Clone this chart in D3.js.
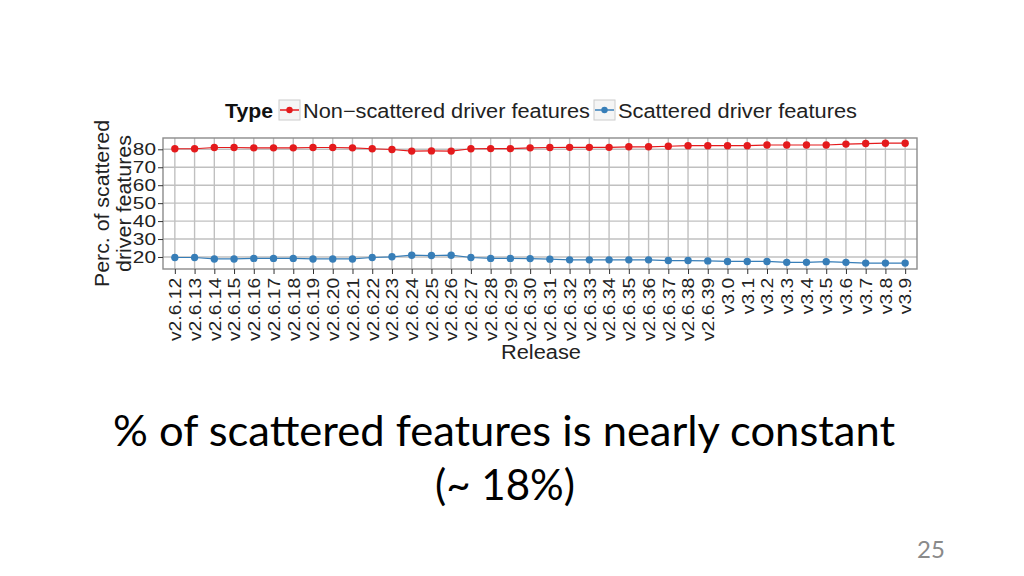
<!DOCTYPE html>
<html>
<head>
<meta charset="utf-8">
<script src="https://cdn.jsdelivr.net/npm/d3@7"></script>
<style>
  body { margin: 0; background: #fff; }
  svg { display: block; }
</style>
</head>
<body>
<svg id="chart" width="1024" height="576"></svg>
<script>
const releases = [
  "v2.6.12", "v2.6.13", "v2.6.14", "v2.6.15", "v2.6.16", "v2.6.17", "v2.6.18", "v2.6.19",
  "v2.6.20", "v2.6.21", "v2.6.22", "v2.6.23", "v2.6.24", "v2.6.25", "v2.6.26", "v2.6.27",
  "v2.6.28", "v2.6.29", "v2.6.30", "v2.6.31", "v2.6.32", "v2.6.33", "v2.6.34", "v2.6.35",
  "v2.6.36", "v2.6.37", "v2.6.38", "v2.6.39", "v3.0", "v3.1", "v3.2", "v3.3", "v3.4",
  "v3.5", "v3.6", "v3.7", "v3.8", "v3.9"
];
const nonScattered = [
  80.3, 80.3, 81.0, 81.0, 80.8, 80.8, 80.8, 81.0, 81.0, 80.8, 80.3, 79.9, 79.0, 79.1, 79.0,
  80.3, 80.4, 80.4, 80.8, 81.0, 81.1, 81.1, 81.1, 81.4, 81.4, 81.7, 82.0, 82.0, 82.0, 82.0,
  82.4, 82.4, 82.4, 82.4, 82.9, 83.2, 83.4, 83.4
];
const scattered = [
  19.7, 19.7, 18.9, 18.9, 19.2, 19.2, 19.2, 18.9, 18.9, 18.9, 19.7, 20.1, 21.0, 20.8, 21.0,
  19.7, 19.2, 19.2, 19.1, 18.8, 18.4, 18.4, 18.4, 18.4, 18.4, 18.0, 18.0, 17.8, 17.5, 17.5,
  17.5, 17.0, 17.0, 17.4, 17.0, 16.6, 16.6, 16.6
];
const yTicks = [20, 30, 40, 50, 60, 70, 80];
const seriesNames = ["Non\u2212scattered driver features", "Scattered driver features"];
const colors = ["#e41a1c", "#377eb8"];

const svg = d3.select("#chart");
const margin = { top: 138, right: 107, bottom: 307, left: 163 };
const width = 1024 - margin.left - margin.right;
const height = 576 - margin.top - margin.bottom;
const sans = "Liberation Sans, Arial, sans-serif";

// ggplot-like expansion: 0.6 units on discrete x
const x = d3.scaleLinear()
    .domain([-0.6, releases.length - 1 + 0.6])
    .range([0, width]);
const y = d3.scaleLinear()
    .domain([13.3, 86.3])
    .range([height, 0]);

const g = svg.append("g")
    .attr("transform", `translate(${margin.left},${margin.top})`);

// grid
g.selectAll(".hgrid").data(yTicks).enter().append("line")
    .attr("x1", 0).attr("x2", width)
    .attr("y1", d => y(d)).attr("y2", d => y(d))
    .attr("stroke", "#c0c0c0").attr("stroke-width", 1.4);
g.selectAll(".vgrid").data(releases).enter().append("line")
    .attr("x1", (d, i) => x(i)).attr("x2", (d, i) => x(i))
    .attr("y1", 0).attr("y2", height)
    .attr("stroke", "#c0c0c0").attr("stroke-width", 1.4);
g.append("rect")
    .attr("width", width).attr("height", height)
    .attr("fill", "none").attr("stroke", "#8c8c8c").attr("stroke-width", 1.4);

// axes
const yAxis = g.append("g")
    .call(d3.axisLeft(y).tickValues(yTicks).tickSize(5).tickPadding(2));
yAxis.select(".domain").remove();
yAxis.selectAll("line").attr("stroke", "#333");
yAxis.selectAll("text")
    .attr("font-family", sans)
    .attr("font-size", 16).attr("fill", "#222")
    .attr("x", 0)
    .attr("transform", "translate(-7,0) scale(1.3,1)");

const xAxis = g.append("g")
    .attr("transform", `translate(0,${height})`)
    .call(d3.axisBottom(x).tickValues(d3.range(releases.length))
      .tickFormat(i => releases[i]).tickSize(5).tickPadding(2));
xAxis.select(".domain").remove();
xAxis.selectAll("line").attr("stroke", "#333");
xAxis.selectAll("text")
    .attr("font-family", sans)
    .attr("font-size", 16.5).attr("fill", "#222")
    .attr("transform", "rotate(-90) scale(1.17,1)")
    .attr("text-anchor", "end")
    .attr("x", -7.5).attr("y", 0).attr("dy", "0.35em");

// lines and points
const series = [nonScattered, scattered];
const line = d3.line().x((d, i) => x(i)).y(d => y(d));
series.forEach((s, k) => {
  g.append("path")
      .datum(s)
      .attr("fill", "none")
      .attr("stroke", colors[k])
      .attr("stroke-width", 1.2)
      .attr("d", line);
  g.selectAll(".pt" + k).data(s).enter().append("circle")
      .attr("cx", (d, i) => x(i)).attr("cy", d => y(d))
      .attr("r", 3.7).attr("fill", colors[k]);
});

// axis titles
const yTitle = [["Perc. of scattered", 109, 167], ["driver features", 131, 137]];
yTitle.forEach(([t, bx, len]) => {
  svg.append("text")
      .attr("transform", `translate(${bx},203.5) rotate(-90)`)
      .attr("text-anchor", "middle")
      .attr("font-family", sans)
      .attr("font-size", 20).attr("fill", "#222")
      .attr("textLength", len).attr("lengthAdjust", "spacingAndGlyphs")
      .text(t);
});

svg.append("text")
    .attr("x", 541).attr("y", 359)
    .attr("text-anchor", "middle")
    .attr("font-family", sans)
    .attr("font-size", 20).attr("fill", "#222")
    .attr("textLength", 80).attr("lengthAdjust", "spacingAndGlyphs")
    .text("Release");

// legend
const legend = svg.append("g").attr("transform", "translate(0,118)");
legend.append("text")
    .attr("x", 225).attr("y", 0)
    .attr("font-family", sans)
    .attr("font-size", 20).attr("font-weight", "bold").attr("fill", "#111")
    .attr("textLength", 48).attr("lengthAdjust", "spacingAndGlyphs")
    .text("Type");
const keyX = [279, 594];
const labelLen = [287, 239];
seriesNames.forEach((name, k) => {
  const kg = legend.append("g").attr("transform", `translate(${keyX[k]},-18)`);
  kg.append("rect").attr("width", 21).attr("height", 20)
      .attr("fill", "#f5f5f5").attr("stroke", "#ccc");
  kg.append("line").attr("x1", 1).attr("x2", 20).attr("y1", 10).attr("y2", 10)
      .attr("stroke", colors[k]).attr("stroke-width", 1.5);
  kg.append("circle").attr("cx", 10.5).attr("cy", 10).attr("r", 3.2).attr("fill", colors[k]);
  kg.append("text")
      .attr("x", 24).attr("y", 18)
      .attr("font-family", sans)
      .attr("font-size", 20).attr("fill", "#222")
      .attr("textLength", labelLen[k]).attr("lengthAdjust", "spacingAndGlyphs")
      .text(name);
});

// slide text
svg.append("text")
    .attr("x", 504).attr("y", 446)
    .attr("text-anchor", "middle")
    .attr("font-family", "Lato, Carlito, Calibri, sans-serif")
    .attr("font-size", 42).attr("fill", "#000")
    .attr("textLength", 782).attr("lengthAdjust", "spacingAndGlyphs")
    .text("% of scattered features is nearly constant");
svg.append("text")
    .attr("x", 505).attr("y", 500)
    .attr("text-anchor", "middle")
    .attr("font-family", "Lato, Carlito, Calibri, sans-serif")
    .attr("font-size", 42).attr("fill", "#000")
    .attr("textLength", 140).attr("lengthAdjust", "spacingAndGlyphs")
    .text("(~ 18%)");
svg.append("text")
    .attr("x", 931).attr("y", 558)
    .attr("text-anchor", "middle")
    .attr("font-family", "Lato, Carlito, Calibri, sans-serif")
    .attr("font-size", 24).attr("fill", "#8a8a8a")
    .text("25");
</script>
</body>
</html>
